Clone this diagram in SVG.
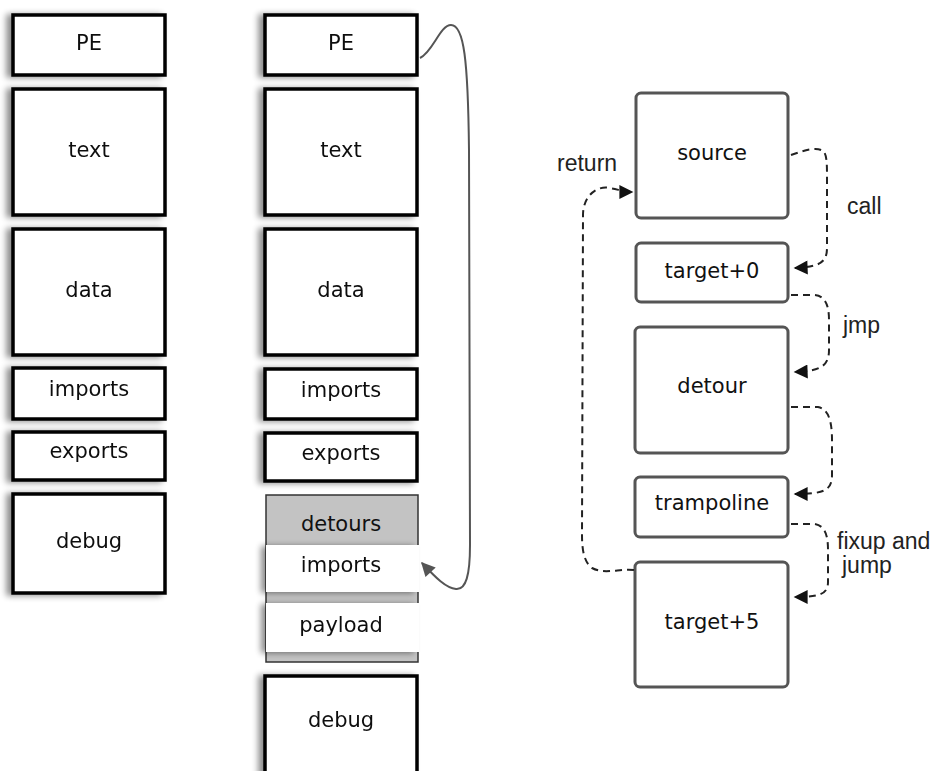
<svg xmlns="http://www.w3.org/2000/svg" width="943" height="771" viewBox="0 0 943 771">
<defs>
<filter id="sh" x="-20%" y="-20%" width="140%" height="140%">
<feGaussianBlur in="SourceAlpha" stdDeviation="3"/>
<feOffset dx="-5" dy="1" result="b"/>
<feComponentTransfer><feFuncA type="linear" slope="0.45"/></feComponentTransfer>
<feMerge><feMergeNode/><feMergeNode in="SourceGraphic"/></feMerge>
</filter>
<marker id="ahd" viewBox="0 0 10 10" refX="9" refY="5" markerWidth="18" markerHeight="14" markerUnits="userSpaceOnUse" orient="auto">
<path d="M0,0 L10,5 L0,10 z" fill="#111"/>
</marker>
<marker id="ahg" viewBox="0 0 10 10" refX="9" refY="5" markerWidth="20" markerHeight="14" markerUnits="userSpaceOnUse" orient="auto">
<path d="M0,0 L10,5 L0,10 z" fill="#555"/>
</marker>
</defs>
<style>
.b{fill:#fff;stroke:#000;stroke-width:3.5}
.r{fill:#fff;stroke:#555;stroke-width:3}
.t{font-family:"DejaVu Sans",sans-serif;font-size:21px;fill:#111;text-anchor:middle}
.l{font-family:"Liberation Sans",Arial,sans-serif;font-size:23px;fill:#222}
.d{fill:none;stroke:#222;stroke-width:2;stroke-dasharray:7,5}
</style>
<rect width="943" height="771" fill="#fff"/>

<g id="left" filter="url(#sh)">
<g id="l-pe"><rect class="b" x="13" y="15" width="152" height="60"/><text class="t" x="89" y="50">PE</text></g>
<g id="l-text"><rect class="b" x="13" y="89" width="152" height="126"/><text class="t" x="89" y="157">text</text></g>
<g id="l-data"><rect class="b" x="13" y="229" width="152" height="126"/><text class="t" x="89" y="297">data</text></g>
<g id="l-imports"><rect class="b" x="13" y="368" width="152" height="51"/><text class="t" x="89" y="396">imports</text></g>
<g id="l-exports"><rect class="b" x="13" y="432" width="152" height="48"/><text class="t" x="89" y="458">exports</text></g>
<g id="l-debug"><rect class="b" x="13" y="494" width="152" height="99"/><text class="t" x="89" y="548">debug</text></g>
</g>

<g id="mid">
<g filter="url(#sh)">
<g id="m-pe"><rect class="b" x="265" y="15" width="152" height="60"/><text class="t" x="341" y="50">PE</text></g>
<g id="m-text"><rect class="b" x="265" y="89" width="152" height="126"/><text class="t" x="341" y="157">text</text></g>
<g id="m-data"><rect class="b" x="265" y="229" width="152" height="126"/><text class="t" x="341" y="297">data</text></g>
<g id="m-imports"><rect class="b" x="265" y="369" width="152" height="50"/><text class="t" x="341" y="397">imports</text></g>
<g id="m-exports"><rect class="b" x="265" y="433" width="152" height="48"/><text class="t" x="341" y="460">exports</text></g>
</g>
<g id="m-detours">
<rect x="266" y="495" width="152" height="167" fill="#c3c3c3" stroke="#333" stroke-width="1.5"/>
<text class="t" x="341" y="531">detours</text>
</g>
<g filter="url(#sh)">
<g id="m-imports2"><rect x="266" y="545" width="153" height="47" fill="#fff"/><text class="t" x="341" y="572">imports</text></g>
<g id="m-payload"><rect x="266" y="603" width="153" height="49" fill="#fff"/><text class="t" x="341" y="632">payload</text></g>
<g id="m-debug"><rect class="b" x="265" y="676" width="152" height="110"/><text class="t" x="341" y="727">debug</text></g>
</g>
</g>

<g id="right">
<g id="source"><rect class="r" x="636" y="93" width="152" height="125" rx="5"/><text class="t" x="712" y="160">source</text></g>
<g id="target0"><rect class="r" x="636" y="243" width="152" height="59" rx="5"/><text class="t" x="712" y="278">target+0</text></g>
<g id="detour"><rect class="r" x="635" y="327" width="153" height="126" rx="5"/><text class="t" x="712" y="393">detour</text></g>
<g id="trampoline"><rect class="r" x="635" y="477" width="153" height="60" rx="5"/><text class="t" x="712" y="510">trampoline</text></g>
<g id="target5"><rect class="r" x="635" y="562" width="153" height="125" rx="5"/><text class="t" x="712" y="629">target+5</text></g>
</g>

<g id="connectors">
<path d="M420,58 C433,52 440,25 451,25 C464,25 468,60 469,150 L470,545 C470,575 466,590 456,589 C446,588 436,578 422,563" fill="none" stroke="#555" stroke-width="2" marker-end="url(#ahg)"/>
<path class="d" d="M791,155 C805,150 818,146 824,152 C827,156 827,165 827,180 L827,248 C827,262 820,267 795,268" marker-end="url(#ahd)"/>
<path class="d" d="M791,295 L815,295 C825,296 829,305 829,320 L829,350 C829,365 822,371 795,372" marker-end="url(#ahd)"/>
<path class="d" d="M791,407 L818,407 C828,409 832,420 832,440 L832,475 C832,490 825,494 795,494" marker-end="url(#ahd)"/>
<path class="d" d="M791,524 L815,524 C825,526 828,535 828,550 L828,582 C828,594 820,597 795,597" marker-end="url(#ahd)"/>
<path class="d" d="M634,570 C620,568 605,575 592,568 C584,562 582,550 582,535 L583,215 C583,195 598,185 610,188 C620,190 625,192 632,192" marker-end="url(#ahd)"/>
<text class="l" x="557" y="171">return</text>
<text class="l" x="847" y="214">call</text>
<text class="l" x="843" y="333">jmp</text>
<text class="l" x="837" y="549">fixup and</text>
<text class="l" x="842" y="573">jump</text>
</g>
</svg>
